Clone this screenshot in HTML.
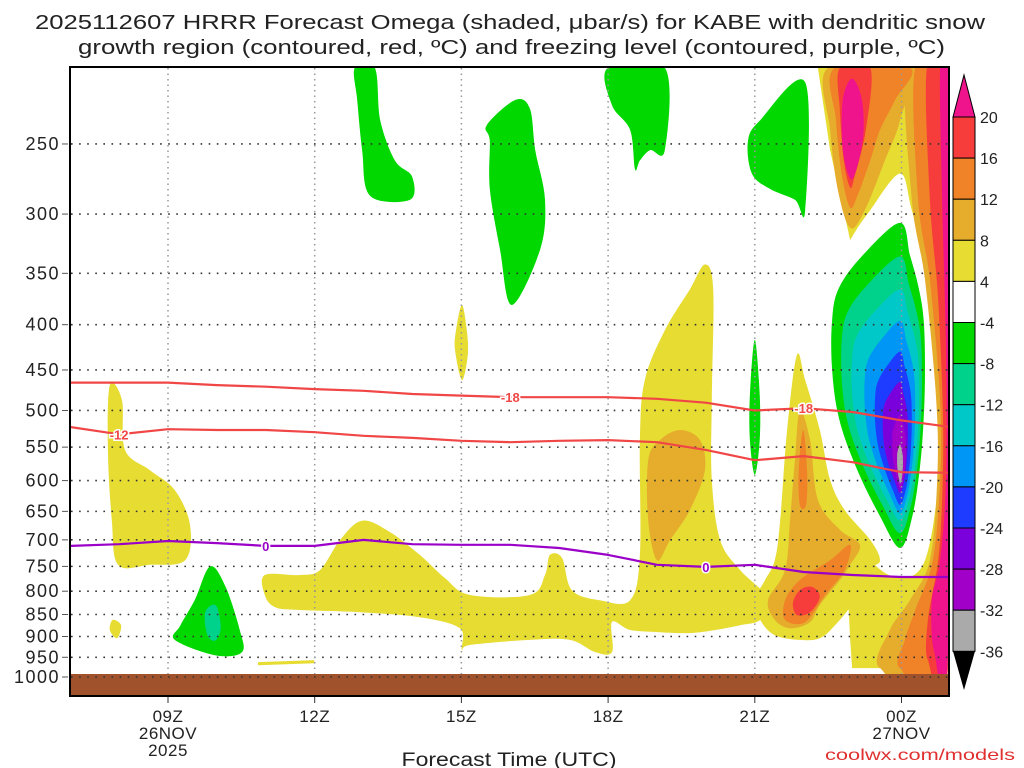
<!DOCTYPE html>
<html><head><meta charset="utf-8"><style>
html,body{margin:0;padding:0;background:#fff;width:1024px;height:768px;overflow:hidden}
svg{display:block;font-family:"Liberation Sans","DejaVu Sans",sans-serif}
</style></head><body>
<svg id="chart" width="1024" height="768" viewBox="0 0 1024 768" xmlns="http://www.w3.org/2000/svg">
<defs><clipPath id="plotclip"><rect x="71" y="68" width="877" height="606"/></clipPath></defs>
<g fill="#222" font-size="20">
<text x="35" y="29" textLength="950" lengthAdjust="spacingAndGlyphs">2025112607 HRRR Forecast Omega (shaded, μbar/s) for KABE with dendritic snow</text>
<text x="78" y="54" textLength="867" lengthAdjust="spacingAndGlyphs">growth region (contoured, red, ºC) and freezing level (contoured, purple, ºC)</text>
</g>
<g id="shading" clip-path="url(#plotclip)"></g>
<g id="grid"></g>
<g id="contours" clip-path="url(#plotclip)"></g>
<rect x="71" y="674" width="877" height="21" fill="#a0522d"/>
<g id="groundgrid"></g>
<rect x="70" y="67" width="879" height="629" fill="none" stroke="#000" stroke-width="2"/>
<g id="yaxis" fill="#222" font-size="18" letter-spacing="1.5"></g>
<g id="xaxis" fill="#222" font-size="17" letter-spacing="0.5"></g>
<text x="509" y="766" text-anchor="middle" font-size="19" fill="#222" textLength="215" lengthAdjust="spacingAndGlyphs">Forecast Time (UTC)</text>
<text x="825" y="760" font-size="16" fill="#e03030" textLength="190" lengthAdjust="spacingAndGlyphs">coolwx.com/models</text>
<g id="colorbar"></g>
</svg>
<script>
const NS="http://www.w3.org/2000/svg";
// ---- data ----
const pressureTicks=[250,300,350,400,450,500,550,600,650,700,750,800,850,900,950,1000];
const timeTickHours=[0,3,6,9,12,15];
const timeTickLabels=["09Z","12Z","15Z","18Z","21Z","00Z"];
const contourHours=[-2,-1,0,1,2,3,4,5,6,7,8,9,10,11,12,13,14,15,16];
const isoMinus18=[465,465,465,468,470,473,475,479,481,483,483,483,485,490,500,497,502,513,522];
const isoMinus12=[522,532,525,526,526,529,534,537,541,543,541,540,543,554,569,563,572,587,588];
const isoZero=[711,708,702,706,711,711,700,708,709,709,715,728,747,751,747,761,767,771,771];
const cbLevels=[20,16,12,8,4,-4,-8,-12,-16,-20,-24,-28,-32,-36];
const cbColors=["#f73c3c","#f08228","#e6ad2d","#e6dc32","#ffffff","#00d800","#00d28c","#00c8c8","#0096f5","#1e3cff","#7a00dc","#a000c8","#aaaaaa"];
// omega regions: [hour, pressure]
const yellowLeft=[[-1.19,468],[-0.94,487],[-0.88,554],[-0.37,584],[0.14,615],[0.45,673],[0.35,738],[-0.37,747],[-1.02,747],[-1.15,665],[-1.23,554]];
const yellowDot=[[-1.13,862],[-0.96,874],[-1.04,904],[-1.19,885]];
const yellowSpike15=[[6.01,380],[6.11,406],[6.13,433],[6.01,462],[5.87,427],[5.89,406]];
const yellowThin=[[1.84,962],[2.99,957],[2.99,965],[1.84,970]];
const yellowBand=[[1.98,767],[2.70,767],[3.11,757],[3.52,700],[3.97,666],[4.54,686],[5.15,728],[5.66,773],[6.18,808],[7.40,808],[7.71,767],[7.81,728],[8.06,734],[8.26,798],[8.83,819],[9.45,819],[9.65,728],[9.65,540],[9.75,462],[10.16,406],[10.67,365],[10.98,342],[11.15,365],[11.12,487],[11.12,599],[11.29,700],[11.70,757],[12.31,819],[12.11,862],[11.70,874],[11.19,885],[10.67,892],[10.06,890],[9.45,885],[9.08,867],[9.08,937],[8.73,937],[8.22,908],[7.40,908],[6.18,920],[6.01,932],[5.97,881],[5.15,856],[3.93,845],[2.70,840],[2.19,834],[1.98,808]];
const orange19=[[10.47,526],[10.88,540],[10.98,584],[10.67,648],[10.27,700],[10.0,738],[9.82,665],[9.82,569],[10.06,540]];
const green1=[[3.82,205],[4.23,205],[4.34,235],[4.64,261],[4.99,272],[4.95,289],[4.13,286],[3.97,254],[3.87,223]];
const green2=[[7.10,223],[7.40,228],[7.51,254],[7.71,289],[7.61,329],[7.03,380],[6.79,329],[6.58,281],[6.58,248],[6.52,238]];
const green3=[[9.0,205],[10.16,205],[10.16,254],[9.86,254],[9.65,261],[9.55,267],[9.45,241],[9.08,226]];
const green4=[[13.03,213],[13.03,297],[12.82,289],[12.31,281],[11.94,270],[11.86,248],[12.11,235]];
const green5=[[12.0,416],[12.1,480],[12.1,540],[12.0,591],[11.9,540],[11.9,480]];
const green6=[[0.86,750],[1.17,789],[1.47,886],[1.51,938],[0.96,945],[0.14,908],[0.25,875],[0.55,818]];
const teal6=[[0.76,845],[0.98,830],[1.08,880],[0.96,910],[0.8,895]];
const rightYellow=[[13.29,205],[15.95,205],[15.95,977],[13.99,977],[13.95,908],[13.91,819],[13.54,700],[13.29,569],[13.29,375],[13.95,321],[13.54,254]];
const rightWhite=[[14.97,270],[14.36,297],[13.95,321],[13.29,375],[13.23,526],[13.64,648],[14.36,738],[14.97,773],[15.48,738],[15.75,599],[15.75,462],[15.58,356],[15.21,297]];
const b22Yellow=[[12.86,433],[13.03,462],[13.33,526],[13.54,599],[13.84,648],[14.36,700],[14.56,738],[14.36,757],[14.05,819],[13.64,874],[13.33,904],[12.92,908],[12.41,897],[12.11,862],[12.0,819],[12.21,777],[12.41,738],[12.52,665],[12.66,526]];
const b22LtOrange=[[12.92,500],[13.13,540],[13.29,631],[13.74,682],[14.15,709],[13.95,747],[13.74,777],[13.33,829],[13.13,867],[12.72,881],[12.41,862],[12.27,819],[12.62,757],[12.72,665],[12.82,569]];
const b22OrangeSpike=[[12.99,526],[13.07,584],[13.05,639],[12.92,639],[12.90,584]];
const b22Orange=[[13.95,709],[13.84,757],[13.44,808],[13.03,867],[12.62,862],[12.62,819],[12.92,777],[13.54,738]];
const b22Red=[[12.92,798],[13.17,791],[13.33,812],[13.13,845],[12.86,851],[12.78,825]];
const colLtOrange=[[15.11,205],[15.21,289],[15.48,356],[15.71,487],[15.73,599],[15.58,738],[15.17,819],[14.76,885],[14.56,977],[15.95,977],[15.95,205]];
const colOrange=[[15.28,205],[15.34,289],[15.58,356],[15.79,487],[15.79,599],[15.64,738],[15.28,840],[15.07,908],[14.97,977],[15.95,977],[15.95,205]];
const colRed=[[15.52,205],[15.58,289],[15.75,375],[15.85,513],[15.83,631],[15.75,738],[15.54,862],[15.54,957],[15.95,957],[15.95,205]];
const colPink=[[15.79,205],[15.83,289],[15.91,427],[15.91,599],[15.79,738],[15.62,819],[15.66,932],[15.95,932],[15.95,205]];
const topLtOrange=[[13.50,205],[15.11,205],[14.97,235],[14.66,261],[14.25,297],[13.95,311],[13.70,282],[13.54,241]];
const topOrange=[[13.64,205],[15.17,205],[14.87,223],[14.56,241],[14.36,261],[14.11,285],[13.95,295],[13.78,271],[13.66,235]];
const topRed=[[13.74,205],[14.36,205],[14.27,241],[14.05,271],[13.95,280],[13.82,261],[13.74,229]];
const topPink=[[13.99,211],[14.19,223],[14.21,247],[13.99,274],[13.80,254],[13.80,223]];
const blobTop=[307,335,365,396,429,464,506,546];
const blobBottom=[715,688,666,653,639,620,613,605];
const blobLeft=[13.58,13.78,13.99,14.25,14.46,14.62,14.81,14.91];
const blobRight=[15.48,15.42,15.36,15.28,15.21,15.13,15.09,15.03];
const blobCenter=14.97;
// ---- axes ----
const xs=h=>168+h*48.9;
const ys=p=>677+384.5*Math.log(p/1000);
function mk(tag,attrs,parent){const e=document.createElementNS(NS,tag);for(const k in attrs)e.setAttribute(k,attrs[k]);parent.appendChild(e);return e;}
function smooth(pts,closedStraight){
  if(closedStraight){return "M"+pts.map(p=>p[0].toFixed(1)+","+p[1].toFixed(1)).join("L")+"Z";}
  const n=pts.length;let d="M"+pts[0][0].toFixed(1)+","+pts[0][1].toFixed(1);
  for(let i=0;i<n;i++){const p0=pts[(i-1+n)%n],p1=pts[i],p2=pts[(i+1)%n],p3=pts[(i+2)%n];
    const c1=[p1[0]+(p2[0]-p0[0])/6,p1[1]+(p2[1]-p0[1])/6],c2=[p2[0]-(p3[0]-p1[0])/6,p2[1]-(p3[1]-p1[1])/6];
    d+="C"+c1[0].toFixed(1)+","+c1[1].toFixed(1)+" "+c2[0].toFixed(1)+","+c2[1].toFixed(1)+" "+p2[0].toFixed(1)+","+p2[1].toFixed(1);}
  return d+"Z";}
const shading=document.getElementById("shading");
function region(data,color,name,straight){
  const pts=data.map(d=>[xs(d[0]),ys(d[1])]);
  const el=mk("path",{d:smooth(pts,straight),fill:color},shading);
  
  
}
const Y=cbColors[3],LO=cbColors[2],OR=cbColors[1],RD=cbColors[0],PK="#f0148c",GR=cbColors[5],TL=cbColors[6];
region(yellowLeft,Y,"omega-region-yellow-left");
region(yellowDot,Y,"omega-region-yellow-dot");
region(yellowSpike15,Y,"omega-region-yellow-15z");
region(yellowThin,Y,"omega-region-yellow-thin",true);
region(yellowBand,Y,"omega-region-yellow-band");
region(orange19,LO,"omega-region-ltorange-19z");
region(green1,GR,"omega-region-green-1");
region(green2,GR,"omega-region-green-2");
region(green3,GR,"omega-region-green-3");
region(green4,GR,"omega-region-green-4");
region(green5,GR,"omega-region-green-5");
region(green6,GR,"omega-region-green-6");
region(teal6,TL,"omega-region-teal-6");
region(rightYellow,Y,"omega-region-yellow-right",true);
region(rightWhite,"#ffffff","omega-region-neutral-right");
region(b22Yellow,Y,"omega-region-yellow-22z");
region(b22LtOrange,LO,"omega-region-ltorange-22z");
region(b22OrangeSpike,OR,"omega-region-orange-spike-22z");
region(b22Orange,OR,"omega-region-orange-22z");
region(b22Red,RD,"omega-region-red-22z");
region(colLtOrange,LO,"omega-region-ltorange-column");
region(colOrange,OR,"omega-region-orange-column");
region(colRed,RD,"omega-region-red-column");
region(colPink,PK,"omega-region-pink-column");
region(topLtOrange,LO,"omega-region-ltorange-top");
region(topOrange,OR,"omega-region-orange-top");
region(topRed,RD,"omega-region-red-top");
region(topPink,PK,"omega-region-pink-top");
const blobColors=[cbColors[5],cbColors[6],cbColors[7],cbColors[8],cbColors[9],cbColors[10],cbColors[11],cbColors[12]];
const tF=[0,.1,.2,.3,.45,.6,.75,.9,1],sL=[0,.55,.9,1,1,.9,.65,.3,0],sR=[0,.4,.75,.95,1,.95,.8,.5,0];
for(let i=0;i<blobTop.length;i++){
  const yT=ys(blobTop[i]),yB=ys(blobBottom[i]),cx=xs(blobCenter),xl=xs(blobLeft[i]),xr=xs(blobRight[i]);
  const pts=[];
  for(let k=0;k<tF.length;k++)pts.push([cx+(xr-cx)*sR[k],yT+(yB-yT)*tF[k]]);
  for(let k=tF.length-2;k>0;k--)pts.push([cx-(cx-xl)*sL[k],yT+(yB-yT)*tF[k]]);
  const el=mk("path",{d:smooth(pts),fill:blobColors[i]},shading);
  
  
}
// grid
const grid=document.getElementById("grid");
pressureTicks.forEach(p=>{
  const el=mk("line",{x1:71,x2:948,y1:ys(p),y2:ys(p),stroke:"#333","stroke-width":1.6,"stroke-dasharray":"1.6 6.5"},grid);
  
  
});
timeTickHours.forEach(h=>{
  const el=mk("line",{x1:xs(h),x2:xs(h),y1:68,y2:695,stroke:"#999","stroke-width":1.5,"stroke-dasharray":"1.5 4"},grid);
  
  
});
// contours
const cont=document.getElementById("contours");
function line(vals,color,name){
  const d="M"+contourHours.map((h,i)=>xs(h).toFixed(1)+","+ys(vals[i]).toFixed(1)).join("L");
  const el=mk("path",{d:d,fill:"none",stroke:color,"stroke-width":2.2,"stroke-linejoin":"round"},cont);
  
  
}
line(isoMinus18,"#f04646","isotherm-minus18");
line(isoMinus12,"#f04646","isotherm-minus12");
line(isoZero,"#9a00c8","freezing-level-line");
function clabel(t,h,vals,color,name){
  const i=contourHours.indexOf(h);const xx=xs(h),yy=ys(vals[i]);
  const el=mk("text",{x:xx,y:yy+5,"text-anchor":"middle","font-size":13,"font-weight":"bold",fill:color,stroke:"#fff","stroke-width":3,"paint-order":"stroke"},cont);
  el.textContent=t;
  
  
}
clabel("-18",7,isoMinus18,"#f04646","label-minus18-a");
clabel("-18",13,isoMinus18,"#f04646","label-minus18-b");
clabel("-12",-1,isoMinus12,"#f04646","label-minus12");
clabel("0",2,isoZero,"#9a00c8","label-zero-a");
clabel("0",11,isoZero,"#9a00c8","label-zero-b");
// ground grid dots
const gg=document.getElementById("groundgrid");
{const el=mk("line",{x1:71,x2:948,y1:677,y2:677,stroke:"#333","stroke-width":1.6,"stroke-dasharray":"1.6 6.5"},gg);

}
// y axis
const ya=document.getElementById("yaxis");
pressureTicks.forEach(p=>{
  const t=mk("text",{x:60,y:ys(p)+6,"text-anchor":"end"},ya);t.textContent=p;
  
  
  const tk=mk("line",{x1:62,x2:68,y1:ys(p),y2:ys(p),stroke:"#555","stroke-width":1},ya);
  
  
});
// x axis
const xa=document.getElementById("xaxis");
timeTickHours.forEach((h,i)=>{
  const t=mk("text",{x:xs(h),y:722,"text-anchor":"middle"},xa);t.textContent=timeTickLabels[i];
  
  
  const tk=mk("line",{x1:xs(h),x2:xs(h),y1:697,y2:703,stroke:"#333","stroke-width":1},xa);
  
  
});
[["26NOV",0,739],["2025",0,756],["27NOV",15,739]].forEach(a=>{
  const t=mk("text",{x:xs(a[1]),y:a[2],"text-anchor":"middle"},xa);t.textContent=a[0];
  
  
});
// colorbar
const cb=document.getElementById("colorbar");
const cbX=953,cbW=22,cbTop=117,cbStep=41.1;
const cy=i=>cbTop+i*cbStep;
{const tri=mk("polygon",{points:`${cbX},${cy(0)} ${cbX+cbW},${cy(0)} ${cbX+cbW/2},75`,fill:PK,stroke:"#000","stroke-width":1},cb);

}
cbColors.forEach((c,i)=>{
  const r=mk("rect",{x:cbX,y:cy(i),width:cbW,height:cbStep,fill:c,stroke:"#000","stroke-width":1},cb);
  
  
});
{const n=cbColors.length;
const tri=mk("polygon",{points:`${cbX},${cy(n)} ${cbX+cbW},${cy(n)} ${cbX+cbW/2},690`,fill:"#000"},cb);

}
cbLevels.forEach((v,i)=>{
  const t=mk("text",{x:980,y:cy(i)+6,"font-size":16,fill:"#222"},cb);t.textContent=v;
  
  
});
</script>
</body></html>
